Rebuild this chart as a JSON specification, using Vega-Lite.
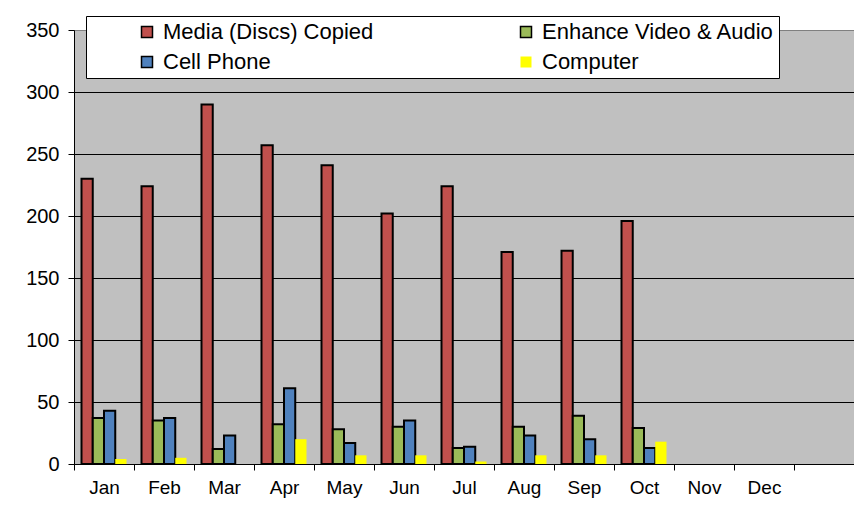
{
  "$schema": "https://vega.github.io/schema/vega-lite/v6.json",
  "width": 780,
  "height": 434,
  "autosize": "none",
  "padding": {"left": 74, "top": 30, "right": 0, "bottom": 52},
  "background": "white",
  "config": {
    "font": "Liberation Sans",
    "view": {"fill": "#C0C0C0", "stroke": "#808080", "strokeWidth": 1}
  },
  "data": {
    "values": [
      {"month": "Jan", "series": "Media (Discs) Copied", "value": 230},
      {"month": "Jan", "series": "Enhance Video & Audio", "value": 37},
      {"month": "Jan", "series": "Cell Phone", "value": 43},
      {"month": "Jan", "series": "Computer", "value": 4},
      {"month": "Feb", "series": "Media (Discs) Copied", "value": 224},
      {"month": "Feb", "series": "Enhance Video & Audio", "value": 35},
      {"month": "Feb", "series": "Cell Phone", "value": 37},
      {"month": "Feb", "series": "Computer", "value": 5},
      {"month": "Mar", "series": "Media (Discs) Copied", "value": 290},
      {"month": "Mar", "series": "Enhance Video & Audio", "value": 12},
      {"month": "Mar", "series": "Cell Phone", "value": 23},
      {"month": "Mar", "series": "Computer", "value": 0},
      {"month": "Apr", "series": "Media (Discs) Copied", "value": 257},
      {"month": "Apr", "series": "Enhance Video & Audio", "value": 32},
      {"month": "Apr", "series": "Cell Phone", "value": 61},
      {"month": "Apr", "series": "Computer", "value": 20},
      {"month": "May", "series": "Media (Discs) Copied", "value": 241},
      {"month": "May", "series": "Enhance Video & Audio", "value": 28},
      {"month": "May", "series": "Cell Phone", "value": 17},
      {"month": "May", "series": "Computer", "value": 7},
      {"month": "Jun", "series": "Media (Discs) Copied", "value": 202},
      {"month": "Jun", "series": "Enhance Video & Audio", "value": 30},
      {"month": "Jun", "series": "Cell Phone", "value": 35},
      {"month": "Jun", "series": "Computer", "value": 7},
      {"month": "Jul", "series": "Media (Discs) Copied", "value": 224},
      {"month": "Jul", "series": "Enhance Video & Audio", "value": 13},
      {"month": "Jul", "series": "Cell Phone", "value": 14},
      {"month": "Jul", "series": "Computer", "value": 2},
      {"month": "Aug", "series": "Media (Discs) Copied", "value": 171},
      {"month": "Aug", "series": "Enhance Video & Audio", "value": 30},
      {"month": "Aug", "series": "Cell Phone", "value": 23},
      {"month": "Aug", "series": "Computer", "value": 7},
      {"month": "Sep", "series": "Media (Discs) Copied", "value": 172},
      {"month": "Sep", "series": "Enhance Video & Audio", "value": 39},
      {"month": "Sep", "series": "Cell Phone", "value": 20},
      {"month": "Sep", "series": "Computer", "value": 7},
      {"month": "Oct", "series": "Media (Discs) Copied", "value": 196},
      {"month": "Oct", "series": "Enhance Video & Audio", "value": 29},
      {"month": "Oct", "series": "Cell Phone", "value": 13},
      {"month": "Oct", "series": "Computer", "value": 18}
    ]
  },
  "mark": {"type": "bar", "stroke": "black"},
  "encoding": {
    "x": {
      "field": "month",
      "type": "nominal",
      "scale": {
        "domain": ["Jan", "Feb", "Mar", "Apr", "May", "Jun", "Jul", "Aug", "Sep", "Oct", "Nov", "Dec", " "],
        "paddingInner": 0,
        "paddingOuter": 0
      },
      "axis": {
        "title": null,
        "labelAngle": 0,
        "tickBand": "extent",
        "domainColor": "black",
        "tickColor": "black",
        "tickSize": 6,
        "labelFontSize": 19,
        "labelColor": "black",
        "labelPadding": 8,
        "grid": false
      }
    },
    "xOffset": {
      "field": "series",
      "type": "nominal",
      "sort": ["Media (Discs) Copied", "Enhance Video & Audio", "Cell Phone", "Computer"],
      "scale": {"paddingOuter": 0.667, "paddingInner": 0}
    },
    "y": {
      "field": "value",
      "type": "quantitative",
      "scale": {"domain": [0, 350], "nice": false},
      "axis": {
        "title": null,
        "values": [0, 50, 100, 150, 200, 250, 300, 350],
        "grid": true,
        "gridColor": {"condition": {"test": "datum.value === 350", "value": "#808080"}, "value": "black"},
        "gridOpacity": 1,
        "domainColor": "black",
        "tickColor": "black",
        "tickSize": 6,
        "labelFontSize": 20,
        "labelColor": "black",
        "labelPadding": 9
      }
    },
    "color": {
      "field": "series",
      "type": "nominal",
      "scale": {
        "domain": ["Media (Discs) Copied", "Enhance Video & Audio", "Cell Phone", "Computer"],
        "range": ["#C0504D", "#9BBB59", "#4F81BD", "#FFFF00"]
      },
      "legend": {
        "title": null,
        "orient": "none",
        "direction": "horizontal",
        "legendX": 12,
        "legendY": -14,
        "columns": 2,
        "fillColor": "white",
        "strokeColor": "black",
        "padding": 5,
        "symbolType": "square",
        "symbolSize": 121,
        "symbolStrokeWidth": 1.5,
        "symbolStrokeColor": "black",
        "symbolOpacity": 1,
        "symbolOffset": 45,
        "labelOffset": 5,
        "labelFontSize": 22,
        "labelColor": "black",
        "labelLimit": 400,
        "rowPadding": 8,
        "columnPadding": 96,
        "encode": {
          "symbols": {
            "update": {
              "strokeWidth": {"signal": "datum.value === 'Computer' ? 0 : 1.5"}
            }
          }
        }
      }
    },
    "strokeWidth": {
      "condition": {"test": "datum.series === 'Computer'", "value": 0},
      "value": 2
    }
  }
}
